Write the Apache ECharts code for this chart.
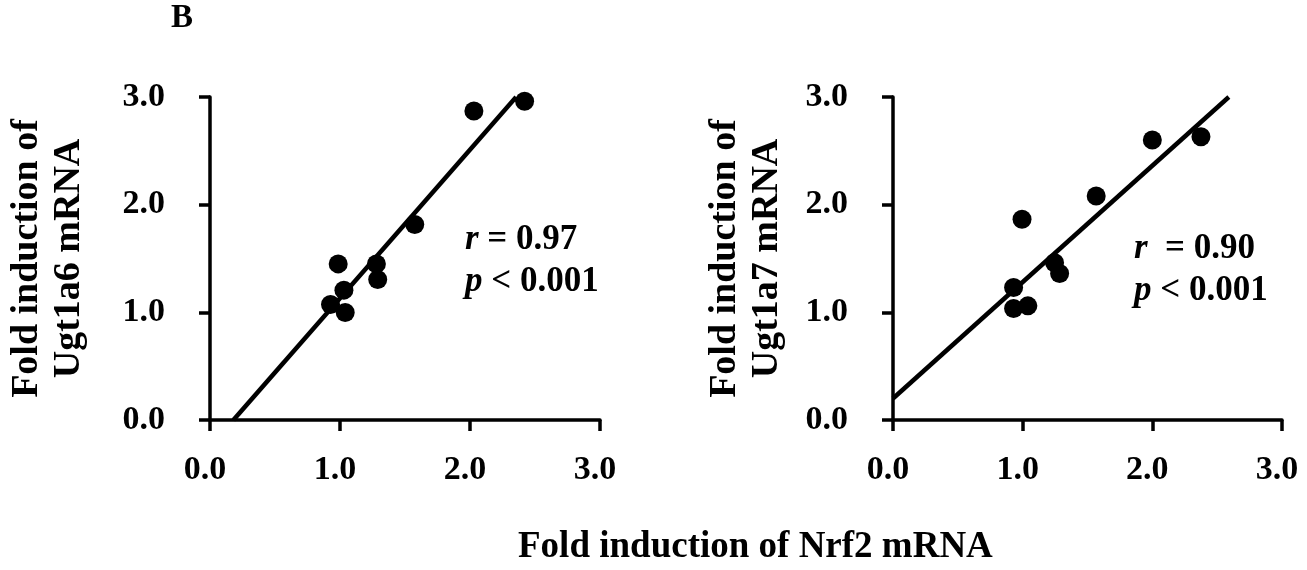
<!DOCTYPE html>
<html>
<head>
<meta charset="utf-8">
<script src="https://cdn.jsdelivr.net/npm/echarts@6/dist/echarts.min.js"></script>
<style>
html,body{margin:0;padding:0;background:#fff;}
#chart{width:1307px;height:570px;}
</style>
</head>
<body>
<div id="chart"></div>
<script>
// ---- data ----
const tickValues = [0, 1, 2, 3];
const panelLabel = 'B';
const xTitle = 'Fold induction of Nrf2 mRNA';
const yTitleLeft = 'Fold induction of\nUgt1a6 mRNA';
const yTitleRight = 'Fold induction of\nUgt1a7 mRNA';

// Ugt1a6 panel: Nrf2 fold (x) vs Ugt1a6 fold (y)
const ugt1a6Nrf2 = [2.03, 2.42, 1.575, 0.986, 1.28, 1.29, 1.03, 0.927, 1.04];
const ugt1a6Fold = [2.87, 2.96, 1.815, 1.45, 1.45, 1.305, 1.206, 1.073, 0.999];
const ugt1a6FitX = [0.18, 2.355];
const ugt1a6FitY = [0.0, 3.0];
const ugt1a6Stats = { r: '0.97', p: '0.001' };

// Ugt1a7 panel: Nrf2 fold (x) vs Ugt1a7 fold (y)
const ugt1a7Nrf2 = [2.00, 2.375, 1.567, 0.995, 1.246, 1.285, 0.93, 0.93, 1.04];
const ugt1a7Fold = [2.60, 2.63, 2.08, 1.865, 1.46, 1.36, 1.23, 1.036, 1.06];
const ugt1a7FitX = [0.0, 2.59];
const ugt1a7FitY = [0.20, 3.0];
const ugt1a7Stats = { r: '0.90', p: '0.001' };

const zip = (a, b) => a.map((v, i) => [v, b[i]]);

const FONT = '"Liberation Serif", "Times New Roman", serif';
const BLACK = '#000';

function makeAxis(gridIndex, isY, name, nameGap) {
  const ax = {
    type: 'value', gridIndex: gridIndex, min: 0, max: 3, interval: 1,
    axisLine: { show: true, onZero: false, lineStyle: { color: BLACK, width: 3.5 } },
    axisTick: { show: true, inside: false, length: 11, lineStyle: { color: BLACK, width: 3.5 } },
    splitLine: { show: false },
    axisLabel: {
      show: true, color: BLACK, fontFamily: FONT, fontWeight: 'bold', fontSize: 34,
      margin: isY ? 45 : 33,
      padding: isY ? 0 : [0, 10, 0, 0],
      formatter: v => v.toFixed(1)
    }
  };
  if (isY) {
    ax.name = name;
    ax.nameLocation = 'middle';
    ax.nameRotate = 90;
    ax.nameGap = nameGap;
    ax.nameTextStyle = { color: BLACK, fontFamily: FONT, fontWeight: 'bold', fontSize: 38, lineHeight: 42 };
  }
  return ax;
}

function statsText(stats, extraSpace) {
  return '{i|r}' + (extraSpace ? '  ' : ' ') + '= ' + stats.r + '\n{i|p} < ' + stats.p;
}

const richI = { i: { fontStyle: 'italic', fontWeight: 'bold', fontSize: 35, fontFamily: FONT, lineHeight: 42 } };

const chart = echarts.init(document.getElementById('chart'), null, { renderer: 'canvas' });
const option = {
  backgroundColor: '#fff',
  animation: false,
  grid: [
    { left: 210, top: 97, width: 390, height: 323 },
    { left: 893, top: 97, width: 389, height: 323 }
  ],
  xAxis: [makeAxis(0, false), makeAxis(1, false)],
  yAxis: [makeAxis(0, true, yTitleLeft, 120), makeAxis(1, true, yTitleRight, 105)],
  series: [
    { type: 'line', xAxisIndex: 0, yAxisIndex: 0, data: zip(ugt1a6FitX, ugt1a6FitY),
      showSymbol: false, symbol: 'none', lineStyle: { color: BLACK, width: 4.5 }, z: 2 },
    { type: 'scatter', xAxisIndex: 0, yAxisIndex: 0, data: zip(ugt1a6Nrf2, ugt1a6Fold),
      symbol: 'circle', symbolSize: 19, itemStyle: { color: BLACK, opacity: 1 }, z: 3 },
    { type: 'line', xAxisIndex: 1, yAxisIndex: 1, data: zip(ugt1a7FitX, ugt1a7FitY),
      showSymbol: false, symbol: 'none', lineStyle: { color: BLACK, width: 4.5 }, z: 2 },
    { type: 'scatter', xAxisIndex: 1, yAxisIndex: 1, data: zip(ugt1a7Nrf2, ugt1a7Fold),
      symbol: 'circle', symbolSize: 19, itemStyle: { color: BLACK, opacity: 1 }, z: 3 }
  ],
  graphic: [
    { type: 'text', left: 171, top: 2,
      style: { text: panelLabel, fill: BLACK, font: 'bold 33px ' + FONT } },
    { type: 'text', left: 518, top: 529,
      style: { text: xTitle, fill: BLACK, font: 'bold 37px ' + FONT } },
    { type: 'text', left: 465, top: 219,
      style: { text: statsText(ugt1a6Stats, false), fill: BLACK, font: 'bold 35px ' + FONT, lineHeight: 42, rich: richI } },
    { type: 'text', left: 1134, top: 228,
      style: { text: statsText(ugt1a7Stats, true), fill: BLACK, font: 'bold 35px ' + FONT, lineHeight: 42, rich: richI } }
  ]
};
chart.setOption(option);
</script>
</body>
</html>
